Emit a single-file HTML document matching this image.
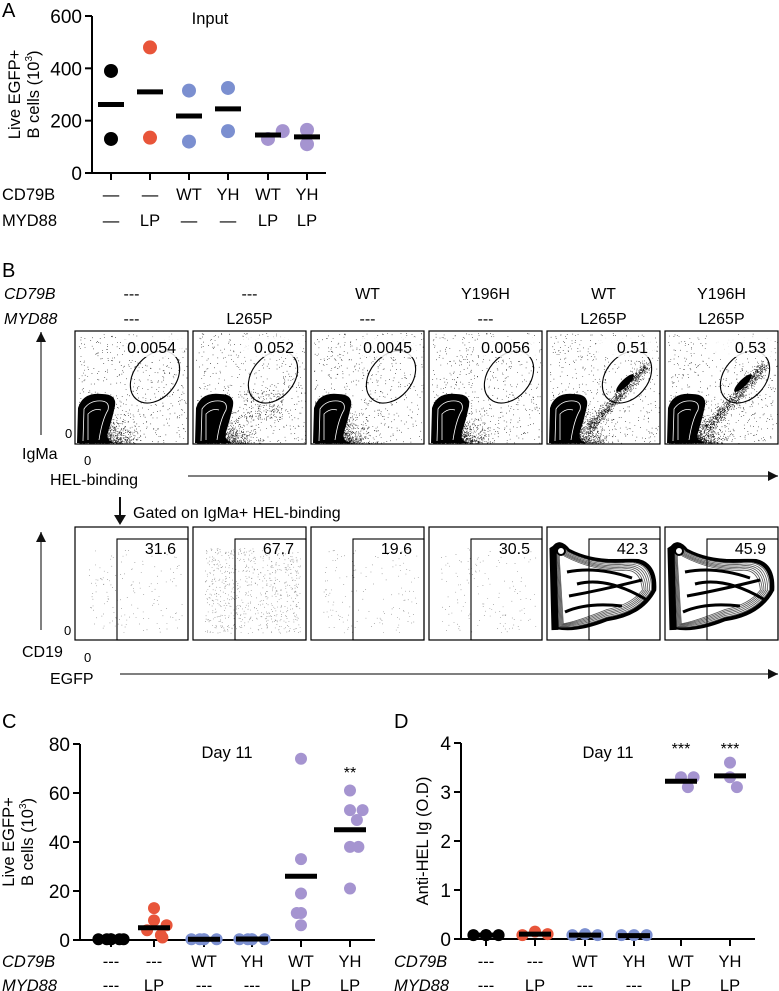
<!DOCTYPE html>
<html><head><meta charset="utf-8"><style>
body{margin:0;background:#fff}
svg{display:block;font-family:"Liberation Sans",Arial,sans-serif}
</style></head><body>
<svg id="fig" width="779" height="991" viewBox="0 0 779 991">
<g id="A"></g>
<g id="B"></g>
<g id="C"></g>
<g id="D"></g>
</svg>
<script>
// ---------- data ----------
const aCats = ["g1","g2","g3","g4","g5","g6"];
const aCD79B = ["—","—","WT","YH","WT","YH"];
const aMYD88 = ["—","LP","—","—","LP","LP"];
const aTicks = [0,200,400,600];
const aValues = [[390,130],[480,135],[315,120],[325,160],[130,160],[110,165]];
const aMeans = [262,310,218,245,145,138];

const cdCD79B = ["---","---","WT","YH","WT","YH"];
const cdMYD88 = ["---","LP","---","---","LP","LP"];
const cTicks = [0,20,40,60,80];
const cValues = [[0.3,0.3,0.3,0.3,0.3,0.3],[13,8,6,4,2,1],[0.3,0.3,0.3,0.3,0.3],[0.3,0.3,0.3,0.3,0.3],[74,33,19,11,11,6],[61,53,53,49,38,38,21]];
const cMeans = [0.2,5,0.3,0.4,26,45];
const cStars = ["","","","","","**"];
const dTicks = [0,1,2,3,4];
const dValues = [[0.08,0.08,0.08,0.08],[0.15,0.1,0.08],[0.1,0.08,0.08],[0.08,0.08,0.08],[3.3,3.3,3.1],[3.6,3.3,3.1]];
const dMeans = [0.08,0.1,0.08,0.07,3.22,3.33];
const dStars = ["","","","","***","***"];
const groupColors = ["#000","#e8553a","#7b8fd0","#7b8fd0","#a594d0","#a594d0"];

const bCD79B = ["---","---","WT","Y196H","WT","Y196H"];
const bMYD88 = ["---","L265P","---","---","L265P","L265P"];
const bTopPct = ["0.0054","0.052","0.0045","0.0056","0.51","0.53"];
const bBotPct = ["31.6","67.7","19.6","30.5","42.3","45.9"];

const NS="http://www.w3.org/2000/svg";
function mk(parent,tag,attrs,text){const e=document.createElementNS(NS,tag);for(const k in attrs)e.setAttribute(k,attrs[k]);if(text!==undefined)e.textContent=text;parent.appendChild(e);return e;}
function swarm(ys,r){const placed=[];const out=[];const step=r*1.15,coll=r*1.7,lim=r*2.1;
  ys.forEach(yv=>{let ox=0;for(let k=0;k<20;k++){const c=(k%2?1:-1)*Math.ceil(k/2)*step;
      if(placed.every(p=>Math.hypot(p[0]-c,p[1]-yv)>=coll)){ox=c;break;}}
    ox=Math.max(-lim,Math.min(lim,ox));
    if(placed.length>=3&&Math.abs(ox)>=lim-0.01){ox=(placed.length%2?1:-1)*(placed.length%3)*r*0.7;}
    placed.push([ox,yv]);out.push(ox);});return out;}

// ---------- dot plot builder ----------
function dotPlot(g,cfg){
  const y=v=>cfg.y0-(v-cfg.min)/(cfg.max-cfg.min)*(cfg.y0-cfg.y1);
  let e=mk(g,'text',{x:cfg.lx,y:cfg.ly,'font-size':20},cfg.letter);
  
  e=mk(g,'line',{x1:cfg.ax,y1:cfg.y1,x2:cfg.ax,y2:cfg.y0,stroke:'#000','stroke-width':2});
  
  e=mk(g,'line',{x1:cfg.ax,y1:cfg.y0,x2:cfg.xend,y2:cfg.y0,stroke:'#000','stroke-width':2});
  
  cfg.ticks.forEach(t=>{
    e=mk(g,'line',{x1:cfg.ax-7,y1:y(t),x2:cfg.ax,y2:y(t),stroke:'#000','stroke-width':2});
    
    e=mk(g,'text',{x:cfg.ax-10,y:y(t)+7,'font-size':19,'text-anchor':'end'},t);
    
  });
  cfg.xs.forEach(x=>{e=mk(g,'line',{x1:x,y1:cfg.y0,x2:x,y2:cfg.y0+7,stroke:'#000','stroke-width':2});
    });
  e=mk(g,'text',{transform:`translate(${cfg.tx},${(cfg.y0+cfg.y1)/2}) rotate(-90)`,'font-size':16.5,'text-anchor':'middle'});
  
  cfg.title.forEach((t,i)=>{mk(e,'tspan',{x:0,dy:i?19:0},t);});
  if(cfg.sup){const l=e.lastChild;l.textContent='B cells (10';mk(e,'tspan',{'font-size':10,dy:-7},'3');mk(e,'tspan',{dy:7},')');}
  e=mk(g,'text',{x:cfg.hx,y:cfg.hy,'font-size':16.5,'text-anchor':'middle'},cfg.header);
  
  cfg.values.forEach((vals,gi)=>{
    const off=swarm(vals.map(y),cfg.r);
    vals.forEach((v,i)=>{
      e=mk(g,'circle',{cx:cfg.xs[gi]+off[i],cy:y(v),r:cfg.r,fill:groupColors[gi]});
      
    });
    e=mk(g,'line',{x1:cfg.xs[gi]-cfg.mw,y1:y(cfg.means[gi]),x2:cfg.xs[gi]+cfg.mw,y2:y(cfg.means[gi]),stroke:'#000','stroke-width':5});
    
    if(cfg.stars&&cfg.stars[gi]){e=mk(g,'text',{x:cfg.xs[gi],y:cfg.sy,'font-size':16,'text-anchor':'middle'},cfg.stars[gi]);
      }
  });
  [cfg.row1,cfg.row2].forEach((row,ri)=>{
    e=mk(g,'text',{x:cfg.rlx,y:cfg.ry[ri],'font-size':16.5,'font-style':cfg.italic?'italic':'normal'},ri?'MYD88':'CD79B');
    
    row.forEach((t,i)=>{e=mk(g,'text',{x:cfg.xs[i],y:cfg.ry[ri],'font-size':16.5,'text-anchor':'middle'},t);
      });
  });
}

dotPlot(document.getElementById('A'),{letter:'A',lx:2,ly:17,ax:92,y0:173,y1:16,xend:326,min:0,max:600,ticks:aTicks,
  xs:[111,150,189,228,268,307],values:aValues,means:aMeans,r:7,mw:13,tx:20,title:['Live EGFP+','B cells (10³)'],sup:true,
  header:'Input',hx:210,hy:24,row1:aCD79B,row2:aMYD88,rlx:2,ry:[200,226],italic:false});
dotPlot(document.getElementById('C'),{letter:'C',lx:2,ly:728,ax:80,y0:940,y1:744,xend:375,min:0,max:80,ticks:cTicks,
  xs:[111,154,204,252,301,350],values:cValues,means:cMeans,r:6,mw:16,tx:14,title:['Live EGFP+','B cells (10³)'],sup:true,
  header:'Day 11',hx:227,hy:758,row1:cdCD79B,row2:cdMYD88,rlx:2,ry:[967,991],italic:true,stars:cStars,sy:778});
dotPlot(document.getElementById('D'),{letter:'D',lx:394,ly:728,ax:461,y0:939,y1:743,xend:755,min:0,max:4,ticks:dTicks,
  xs:[486,535,585,634,681,730],values:dValues,means:dMeans,r:6,mw:16,tx:428,title:['Anti-HEL Ig (O.D)'],sup:false,
  header:'Day 11',hx:608,hy:758,row1:cdCD79B,row2:cdMYD88,rlx:394,ry:[967,991],italic:true,stars:dStars,sy:754});

// ---------- panel B flow plots ----------
(function(){
  const g=document.getElementById('B');
  let seed=7;const rnd=()=>{seed=(seed*16807)%2147483647;return seed/2147483647;};
  const gauss=()=>(rnd()+rnd()+rnd()-1.5)/1.5;
  let e=mk(g,'text',{x:2,y:277,'font-size':20},'B');
  e=mk(g,'text',{x:4,y:299,'font-size':16,'font-style':'italic'},'CD79B');
  e=mk(g,'text',{x:4,y:324,'font-size':16,'font-style':'italic'},'MYD88');
  const bx=[75,193,311,429,547,665],bw=113;
  const arrow=(x1,y1,x2,y2,name)=>{const gg=mk(g,'g',{});
    mk(gg,'line',{x1,y1,x2,y2,stroke:'#555','stroke-width':1.5});
    if(x1===x2){mk(gg,'polygon',{points:`${x2-5},${y2+10} ${x2+5},${y2+10} ${x2},${y2}`,fill:'#111'});}
    else{mk(gg,'polygon',{points:`${x2-10},${y2-5} ${x2-10},${y2+5} ${x2},${y2}`,fill:'#111'});}};
  arrow(41,435,41,332,'igma-axis-arrow');arrow(188,476,778,476,'hel-axis-arrow');
  arrow(41,630,41,532,'cd19-axis-arrow');arrow(120,674,778,674,'egfp-axis-arrow');
  const lab=(x,y,t,n,s)=>{const el=mk(g,'text',{x,y,'font-size':s||16},t);};
  lab(65,438,'0','igma-zero',13);lab(22,459,'IgMa','igma-axis-label');lab(84,465,'0','hel-zero',13);lab(50,485,'HEL-binding','hel-axis-label');
  lab(64,635,'0','cd19-zero',13);lab(22,657,'CD19','cd19-axis-label');lab(84,662,'0','egfp-zero',13);lab(50,684,'EGFP','egfp-axis-label');
  lab(133,518,'Gated on IgMa+ HEL-binding','gating-note');
  e=mk(g,'line',{x1:120,y1:497,x2:120,y2:517,stroke:'#111','stroke-width':2});
  mk(g,'polygon',{points:'114,515 126,515 120,525',fill:'#111'});
  bx.forEach((x,i)=>{
    const cx=x+bw/2;
    e=mk(g,'text',{x:cx,y:299,'font-size':16,'text-anchor':'middle'},bCD79B[i]);
    e=mk(g,'text',{x:cx,y:324,'font-size':16,'text-anchor':'middle'},bMYD88[i]);
    const t=mk(g,'g',{});
    mk(t,'rect',{x,y:331,width:bw,height:113,fill:'#fff',stroke:'#000','stroke-width':1.2});
    let dots='';
    for(let k=0;k<2200;k++){const dx=Math.abs(gauss())*70,dy=Math.abs(gauss())*55;
      if(rnd()<0.5){dots+=`M${x+4+dx*rnd()*1.3},${443-dy*0.9}h.7v.7h-.7z`;}else{dots+=`M${x+4+dx},${443-dy*rnd()}h.7v.7h-.7z`;}}
    for(let k=0;k<500;k++){dots+=`M${x+3+rnd()*110},${333+rnd()*110}h.7v.7h-.7z`;}
    if(i>=4){for(let k=0;k<900;k++){const s=rnd();dots+=`M${x+40+s*60+gauss()*8},${430-s*65+gauss()*8}h.7v.7h-.7z`;}}
    if(i===1){for(let k=0;k<200;k++){dots+=`M${x+50+rnd()*40},${390+rnd()*30}h.7v.7h-.7z`;}}
    mk(t,'path',{d:dots,fill:'#111'});
    mk(t,'path',{d:`M${x+2},${443} L${x+3},${408} Q${x+8},${392} ${x+27},${394} Q${x+42},${394} ${x+40},${406} Q${x+37},${420} ${x+33},${432} Q${x+30},${443} ${x+44},${443} Z`,fill:'#000'});
    mk(t,'path',{d:`M${x+8},${441} L${x+9},${409} Q${x+15},${400} ${x+27},${401} Q${x+35},${402} ${x+33},${410} Q${x+27},${420} ${x+24},${440}`,fill:'none',stroke:'#fff','stroke-width':0.8});
    mk(t,'path',{d:`M${x+13},${440} L${x+13},${414} Q${x+19},${408} ${x+26},${410}`,fill:'none',stroke:'#fff','stroke-width':0.8});
    if(i>=4){mk(t,'ellipse',{cx:x+78,cy:383,rx:12,ry:3.5,transform:`rotate(-45 ${x+78} 383)`,fill:'#000'});}
    mk(t,'ellipse',{cx:x+80,cy:377,rx:21,ry:29,transform:`rotate(40 ${x+80} 377)`,fill:'none',stroke:'#000','stroke-width':1.1});
    mk(t,'rect',{x:x+50,y:337,width:58,height:20,fill:'#fff',opacity:0.85});
    e=mk(t,'text',{x:x+bw-12,y:353,'font-size':16,'text-anchor':'end'},bTopPct[i]);
    const b=mk(g,'g',{});
    mk(b,'rect',{x,y:527,width:bw,height:113,fill:'#fff',stroke:'#000','stroke-width':1.2});
    let d2='';const n=i===1?700:(i>=4?0:150);
    for(let k=0;k<n;k++){d2+=`M${x+12+rnd()*95},${548+rnd()*85}h.7v.7h-.7z`;}
    mk(b,'path',{d:d2,fill:'#777'});
    if(i>=4){
      for(let c=0;c<8;c++){const s=c*3;
        mk(b,'path',{d:`M${x+10+s*.3},${628-s*.2} L${x+6+s*.3},${548+s*.5} Q${x+12},${538+s*.6} ${x+22-s*.2},${550+s*.3} Q${x+45},${562+s*.4} ${x+75},${560+s*.5} Q${x+110-s*.8},${555+s*.6} ${x+108-s*.6},${590} Q${x+95-s*.5},${615-s*.5} ${x+60},${620-s*.5} Q${x+30},${632-s*.5} ${x+10+s*.3},${628-s*.2}`,fill:'none',stroke:c<2?'#000':'#555','stroke-width':c<2?2.5:0.8});}
      mk(b,'path',{d:`M${x+8},${630} L${x+6},${550} L${x+14},${545}`,fill:'none',stroke:'#000','stroke-width':7});
      mk(b,'circle',{cx:x+14,cy:551,r:4,fill:'#fff',stroke:'#000','stroke-width':2});
      mk(b,'path',{d:`M${x+20},${572} Q${x+50},${566} ${x+85},${578} M${x+22},${596} Q${x+55},${590} ${x+95},${580} M${x+18},${612} Q${x+40},${602} ${x+75},${606} M${x+30},${584} Q${x+60},${576} ${x+100},${600}`,fill:'none',stroke:'#000','stroke-width':3});
    }
    mk(b,'rect',{x:x+42,y:539,width:bw-42,height:101,fill:'none',stroke:'#000','stroke-width':1.1});
    if(i>=4)mk(b,'rect',{x:x+bw-52,y:540,width:46,height:19,fill:'#fff',opacity:0.85});
    e=mk(b,'text',{x:x+bw-12,y:554,'font-size':16,'text-anchor':'end'},bBotPct[i]);
  });
})();
</script>
</body></html>
